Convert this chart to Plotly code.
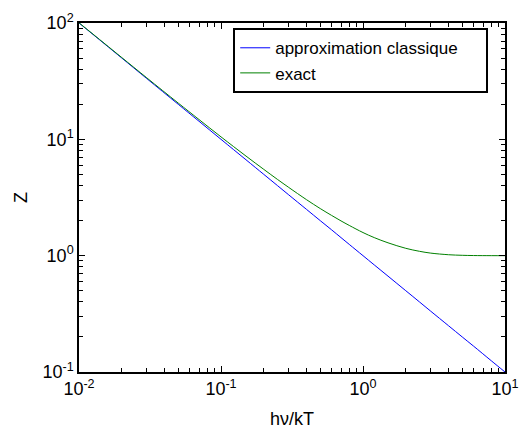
import plotly.graph_objects as go

# readings from the picture
x_vals = [0.01, 0.015, 0.02, 0.03, 0.05, 0.07, 0.1, 0.15, 0.2, 0.25, 0.3, 0.4, 0.5, 0.6, 0.7,
          0.8, 1.0, 1.2, 1.5, 2.0, 2.5, 3.0, 4.0, 5.0, 6.0, 8.0, 10.0]
classic = [100, 66.7, 50, 33.3, 20, 14.3, 10, 6.67, 5, 4, 3.33, 2.5, 2, 1.67, 1.43,
           1.25, 1, 0.833, 0.667, 0.5, 0.4, 0.333, 0.25, 0.2, 0.167, 0.125, 0.1]
exact = [100.5, 67.2, 50.5, 33.8, 20.5, 14.8, 10.5, 7.18, 5.52, 4.52, 3.86, 3.03, 2.54, 2.22, 1.99,
         1.82, 1.58, 1.43, 1.29, 1.157, 1.09, 1.052, 1.019, 1.007, 1.0025, 1.0003, 1.0]
series_names = ["approximation classique", "exact"]

x_ticks = [0.01, 0.1, 1, 10]
x_ticktext = ["10<sup>-2</sup>", "10<sup>-1</sup>", "10<sup>0</sup>", "10<sup>1</sup>"]
y_ticks = [0.1, 1, 10, 100]
y_ticktext = ["10<sup>-1</sup>", "10<sup>0</sup>", "10<sup>1</sup>", "10<sup>2</sup>"]

def minors(lo_exp, hi_exp):
    out = []
    for e in range(lo_exp, hi_exp):
        for m in range(2, 10):
            out.append(m * 10 ** e)
    return out

fig = go.Figure()
fig.add_trace(go.Scatter(x=x_vals, y=classic, mode="lines", name=series_names[0] + "\u00a0" * 5,
                         line=dict(color="#0000ff", width=1, shape="spline")))
fig.add_trace(go.Scatter(x=x_vals, y=exact, mode="lines", name=series_names[1],
                         line=dict(color="#008000", width=1, shape="spline")))

font = dict(family="Liberation Sans, Arial, sans-serif", size=18, color="black")

axis_common = dict(type="log", showgrid=False, zeroline=False, showline=True, linecolor="black",
                   linewidth=1.5, mirror="ticks", ticks="inside", ticklen=6, tickwidth=1,
                   tickcolor="black", tickfont=font)

fig.update_xaxes(**axis_common, range=[-2, 1], tickvals=x_ticks, ticktext=x_ticktext,
                 minor=dict(tickvals=minors(-2, 1), ticks="inside", ticklen=4, tickcolor="black",
                            showgrid=False),
                 title=dict(text="hν/kT", font=font, standoff=14))
fig.update_yaxes(**axis_common, range=[-1, 2], tickvals=y_ticks, ticktext=y_ticktext,
                 minor=dict(tickvals=minors(-1, 2), ticks="inside", ticklen=4, tickcolor="black",
                            showgrid=False),
                 title=dict(text="Z", font=font, standoff=10))

fig.update_layout(
    width=529, height=432,
    margin=dict(l=71, r=32, t=15, b=68, autoexpand=False),
    paper_bgcolor="white", plot_bgcolor="white",
    font=font,
    showlegend=True,
    legend=dict(x=0.362, y=0.985, xanchor="left", yanchor="top",
                bordercolor="black", borderwidth=2, bgcolor="white",
                font=dict(family="Liberation Sans, Arial, sans-serif", size=17, color="black"),
                itemwidth=30, tracegroupgap=0),
)

fig.write_html("out.html")
